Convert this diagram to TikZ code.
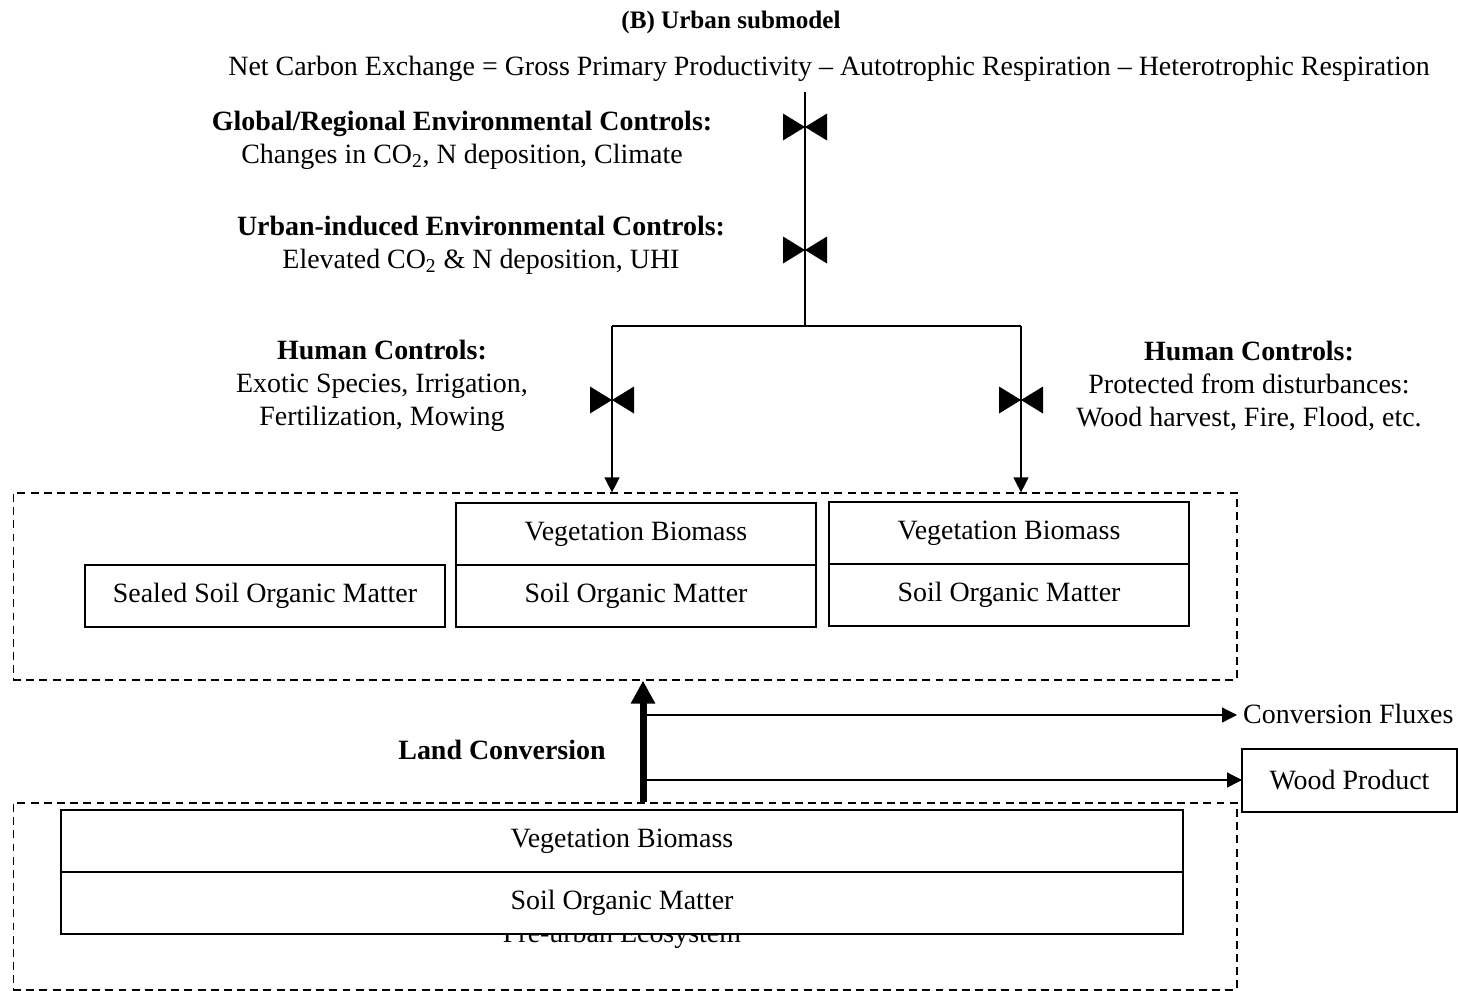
\documentclass[tikz,border=0pt]{standalone}
\usepackage{fontspec}
\setmainfont{Liberation Serif}
\usetikzlibrary{arrows.meta,positioning}

\tikzset{
  box/.style={draw, line width=.9pt, fill=white, minimum height=1.24cm, inner sep=0pt, outer sep=0pt},
  zone/.style={draw, dash pattern=on 4.5pt off 3pt, line width=.7pt, inner sep=0pt,
    minimum width=24.48cm, minimum height=3.74cm},
  valve/.style={minimum width=.88cm, minimum height=.54cm, inner sep=0pt,
    path picture={\fill (path picture bounding box.north west) -- (path picture bounding box.south west)
      -- (path picture bounding box.center) -- cycle
      (path picture bounding box.north east) -- (path picture bounding box.south east)
      -- (path picture bounding box.center) -- cycle;}},
  flow/.style={line width=.7pt, -{Triangle[length=.3cm,width=.3cm]}},
}

\begin{document}
\begin{tikzpicture}[x=.02cm, y=-.02cm, every node/.style={font=\fontsize{15.9}{18.8}\selectfont}]
	\useasboundingbox (0,0) rectangle (1458,991);
	% headings
	\node[font=\fontsize{14.3}{17}\selectfont] (title) at (731,22) {\textbf{(B) Urban submodel}};
	\node (nce)   at (829,69) {Net Carbon Exchange = Gross Primary Productivity -- Autotrophic Respiration -- Heterotrophic Respiration};
	\node[align=center] (glob)  at (462,140) {\textbf{Global/Regional Environmental Controls:}\\Changes in CO\textsubscript{2}, N deposition, Climate};
	\node[align=center] (local) at (481,245) {\textbf{Urban-induced Environmental Controls:}\\Elevated CO\textsubscript{2} \& N deposition, UHI};
	\node[align=center] (humL)  at (382,386) {\textbf{Human Controls:}\\Exotic Species, Irrigation,\\Fertilization, Mowing};
	\node[align=center] (humR)  at (1249,386) {\textbf{Human Controls:}\\Protected from disturbances:\\Wood harvest, Fire, Flood, etc.};
	\node (landc) at (502,750) {\textbf{Land Conversion}};

	% valves
	\node[valve] (v1) at (805,127) {};
	\node[valve] (v2) at (805,250) {};
	\node[valve] (v3) at (612,400) {};
	\node[valve] (v4) at (1021,400) {};
	\coordinate (top)  at (805,92);
	\coordinate (fork) at (805,326);
	\coordinate (jl)   at (612,326);
	\coordinate (jr)   at (1021,326);

	% ecosystems
	\node[zone] (urban) at (625,586.5) {};
	\node[zone] (pre)   at (625,896.5) {};
	\node[anchor=base] (prelab) at (622,942) {Pre-urban Ecosystem};

	\node[box, minimum width=7.2cm] (sealed) at (265,596) {Sealed Soil Organic Matter};
	\node[box, minimum width=7.2cm] (veg1) at (636,534) {Vegetation Biomass};
	\node[box, minimum width=7.2cm, below=0pt of veg1] (soil1) {Soil Organic Matter};
	\node[box, minimum width=7.2cm] (veg2) at (1009,533) {Vegetation Biomass};
	\node[box, minimum width=7.2cm, below=0pt of veg2] (soil2) {Soil Organic Matter};
	\node[box, minimum width=22.44cm] (vegp) at (622,841) {Vegetation Biomass};
	\node[box, minimum width=22.44cm, below=0pt of vegp] (soilp) {Soil Organic Matter};

	\node[box, minimum width=4.3cm, minimum height=1.26cm] (wood) at (1349.5,780.5) {Wood Product};
	\node[anchor=west] (fluxes) at (1237,714) {Conversion Fluxes};

	% connectors
	\draw[line width=.7pt] (top) -- (fork) (jl) -- (jr);
	\draw[flow] (jl) -- (jl |- urban.north);
	\draw[flow] (jr) -- (jr |- urban.north);

	\coordinate (lc) at (643,740);
	\coordinate (s1) at (647,715);
	\coordinate (s2) at (647,780);
	\draw[line width=.14cm, -{Triangle[length=.46cm,width=.46cm]}] (lc |- pre.north) -- (lc |- urban.south);
	\draw[flow] (s1) -- (fluxes.west |- s1);
	\draw[flow] (s2) -- (wood.west |- s2);
\end{tikzpicture}
\end{document}
